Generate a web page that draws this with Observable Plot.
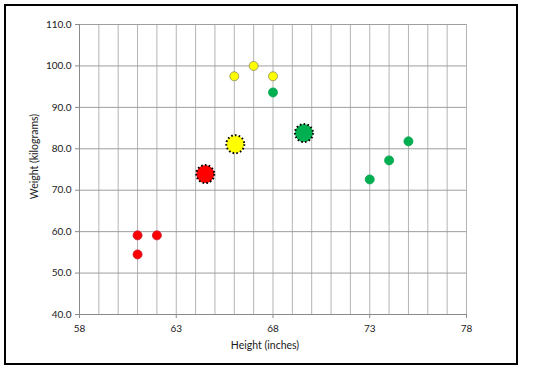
<!DOCTYPE html>
<html>
<head>
<meta charset="utf-8">
<script src="https://cdn.jsdelivr.net/npm/d3@7"></script>
<script src="https://cdn.jsdelivr.net/npm/@observablehq/plot@0.6"></script>
<style>
  html, body { margin: 0; padding: 0; background: #fff; }
  #wrap { position: relative; width: 533px; height: 368px; }
  #border { position: absolute; left: 4px; top: 4px; width: 510px; height: 357px; border: 2px solid #000; box-sizing: content-box; pointer-events: none; }
  #chart { position: absolute; left: 0; top: 0; }
</style>
</head>
<body>
<div id="wrap"><div id="chart"></div><div id="border"></div></div>
<script>
// Points (height in inches, weight in kg) by cluster
const clusters = ["red", "yellow", "green"];
const pointCluster = ["red", "red", "red", "yellow", "yellow", "yellow", "green", "green", "green", "green"];
const pointHeight = [61, 62, 61, 66, 67, 68, 68, 73, 74, 75];
const pointWeight = [59.1, 59.1, 54.5, 97.5, 100.0, 97.5, 93.6, 72.6, 77.2, 81.8];
// Cluster centres
const centreCluster = ["red", "yellow", "green"];
const centreHeight = [64.5, 66.05, 69.6];
const centreWeight = [73.9, 81.1, 83.8];
// Axis ticks
const xTicks = [58, 63, 68, 73, 78];
const xGrid = d3.range(58, 79, 1);
const yTicks = [40, 50, 60, 70, 80, 90, 100, 110];

const fills = {red: "#ff0000", yellow: "#ffff00", green: "#00b050"};
const strokes = {red: "#c8102e", yellow: "#8a8a60", green: "#00a04a"};

const points = pointHeight.map((h, i) => ({h, w: pointWeight[i], c: pointCluster[i]}));
const centres = centreHeight.map((h, i) => ({h, w: centreWeight[i], c: centreCluster[i]}));

const chart = Plot.plot({
  width: 533,
  height: 368,
  marginLeft: 79,
  marginRight: 67,
  marginTop: 24,
  marginBottom: 54,
  style: {fontFamily: "Lato, 'Open Sans', sans-serif", fontSize: "10px", color: "#000", background: "transparent"},
  x: {domain: [58, 78]},
  y: {domain: [40, 110]},
  marks: [
    Plot.gridX(xGrid, {stroke: "#b4b4b4", strokeOpacity: 1}),
    Plot.gridY(yTicks, {stroke: "#9e9e9e", strokeOpacity: 1}),
    Plot.ruleX([58], {stroke: "#8a8a8a"}),
    Plot.ruleY([40], {stroke: "#8a8a8a"}),
    Plot.axisX(xTicks, {tickSize: 4, tickPadding: 6, stroke: "#8a8a8a", fill: "#1a1a1a", label: null}),
    Plot.axisY(yTicks, {tickSize: 4, tickPadding: 4, stroke: "#8a8a8a", fill: "#1a1a1a", tickFormat: d => d.toFixed(1), label: null}),
    Plot.text(["Height (inches)"], {frameAnchor: "bottom", lineAnchor: "bottom", dy: 34, dx: -8, fontSize: 10.5, fill: "#1a1a1a"}),
    Plot.text(["Weight (kilograms)"], {frameAnchor: "left", textAnchor: "middle", rotate: -90, dx: -45, dy: -13, fontSize: 10.5, fill: "#1a1a1a"}),
    Plot.dot(points, {x: "h", y: "w", r: 4.5, fill: d => fills[d.c], stroke: d => strokes[d.c], strokeWidth: 0.8}),
    Plot.dot(centres, {x: "h", y: "w", r: 9, fill: d => fills[d.c], stroke: "#000", strokeWidth: 2, strokeDasharray: "1.6,2.2"})
  ]
});
document.getElementById("chart").append(chart);
</script>
</body>
</html>
